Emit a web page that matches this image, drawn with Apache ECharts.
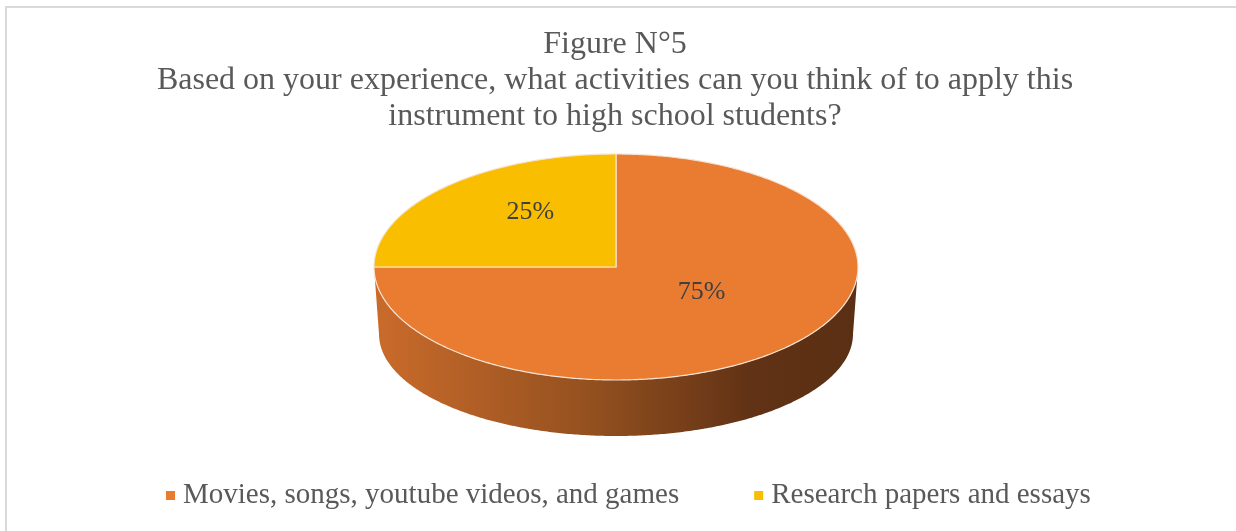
<!DOCTYPE html>
<html>
<head>
<meta charset="utf-8">
<script src="https://cdn.jsdelivr.net/npm/echarts@6/dist/echarts.min.js"></script>
<style>
html,body{margin:0;padding:0;background:#fff;}
#chart{width:1236px;height:531px;}
</style>
</head>
<body>
<div id="chart"></div>
<script>
// ---- data ----
const categories = ['Movies, songs, youtube videos, and games', 'Research papers and essays'];
const values = [75, 25];
const titleLines = ['Figure N°5', 'Based on your experience, what activities can you think of to apply this', 'instrument to high school students?'];

// ---- style / layout ----
const colors = ['#E97C31', '#F9BE00'];
const FONT = "'Liberation Serif', 'Times New Roman', serif";
const G = { cx: 616, cy: 267, rx: 242, ry: 113, bcy: 334, brx: 237, bry: 102, labelR: 0.5, labelLift: 15 };

const total = values.reduce((a, b) => a + b, 0);
const cum = values.map((v, i) => values.slice(0, i).reduce((a, b) => a + b, 0));

function topPt(t) { return [G.cx + G.rx * Math.cos(t), G.cy + G.ry * Math.sin(t)]; }
function botPt(t) { return [G.cx + G.brx * Math.cos(t), G.bcy + G.bry * Math.sin(t)]; }
function arc(fn, a, b) {
  const n = Math.max(2, Math.ceil(Math.abs(b - a) / 0.01));
  const pts = [];
  for (let k = 0; k <= n; k++) pts.push(fn(a + (b - a) * k / n));
  return pts;
}

function makeRender(idx) {
  return function (params, api) {
    const v = api.value(0);
    const a0 = -Math.PI / 2 + 2 * Math.PI * cum[idx] / total;
    const a1 = a0 + 2 * Math.PI * v / total;
    const children = [];
    // visible side wall (front half: angles in [0, PI] mod 2PI)
    [[0, Math.PI], [2 * Math.PI, 3 * Math.PI], [-2 * Math.PI, -Math.PI]].forEach(function (r) {
      const s = Math.max(a0, r[0]), e = Math.min(a1, r[1]);
      if (e - s > 1e-6) {
        const pts = arc(topPt, s, e).concat(arc(botPt, e, s));
        children.push({
          type: 'polygon', z2: 1,
          shape: { points: pts },
          style: {
            fill: new echarts.graphic.LinearGradient(0, 0, 1, 0, [
              { offset: 0, color: '#CA6B2B' },
              { offset: 0.45, color: '#93501F' },
              { offset: 0.78, color: '#613215' },
              { offset: 1, color: '#5A2F13' }
            ]),
            stroke: null
          }
        });
      }
    });
    // top face
    const topPts = [[G.cx, G.cy]].concat(arc(topPt, a0, a1));
    children.push({
      type: 'polygon', z2: 10,
      shape: { points: topPts },
      style: { fill: colors[idx], stroke: '#F6E3D3', lineWidth: 1.2 }
    });
    // label
    const mid = (a0 + a1) / 2;
    children.push({
      type: 'text', z2: 20,
      x: G.cx + G.rx * G.labelR * Math.cos(mid),
      y: G.cy + G.ry * G.labelR * Math.sin(mid) - G.labelLift,
      style: {
        text: Math.round(v / total * 100) + '%',
        fontSize: 26, fontFamily: FONT, fill: '#404040',
        align: 'center', verticalAlign: 'middle'
      }
    });
    return { type: 'group', children: children };
  };
}

const series = categories.map(function (name, i) {
  return {
    type: 'custom', name: name, coordinateSystem: 'none',
    z: i === 0 ? 2 : 3,
    itemStyle: { color: colors[i] },
    data: [[values[i]]],
    renderItem: makeRender(i),
    silent: true
  };
});

const chart = echarts.init(document.getElementById('chart'), null, { renderer: 'canvas' });
chart.setOption({
  animation: false,
  backgroundColor: '#ffffff',
  title: {
    text: titleLines.join('\n'),
    left: 615, top: 27, padding: 0,
    textAlign: 'center',
    textStyle: { fontFamily: FONT, fontSize: 32, fontWeight: 'normal', color: '#595959', lineHeight: 36 }
  },
  legend: {
    data: categories,
    left: 166, top: 481, padding: 0,
    icon: 'rect', itemWidth: 9, itemHeight: 9, itemGap: 75,
    textStyle: { fontFamily: FONT, fontSize: 29, color: '#595959', padding: [0, 0, 0, 3] }
  },
  graphic: [{
    type: 'rect', silent: true,
    shape: { x: 6, y: 7, width: 1300, height: 600 },
    style: { fill: null, stroke: '#D9D9D9', lineWidth: 2 }
  }],
  series: series
});
</script>
</body>
</html>
